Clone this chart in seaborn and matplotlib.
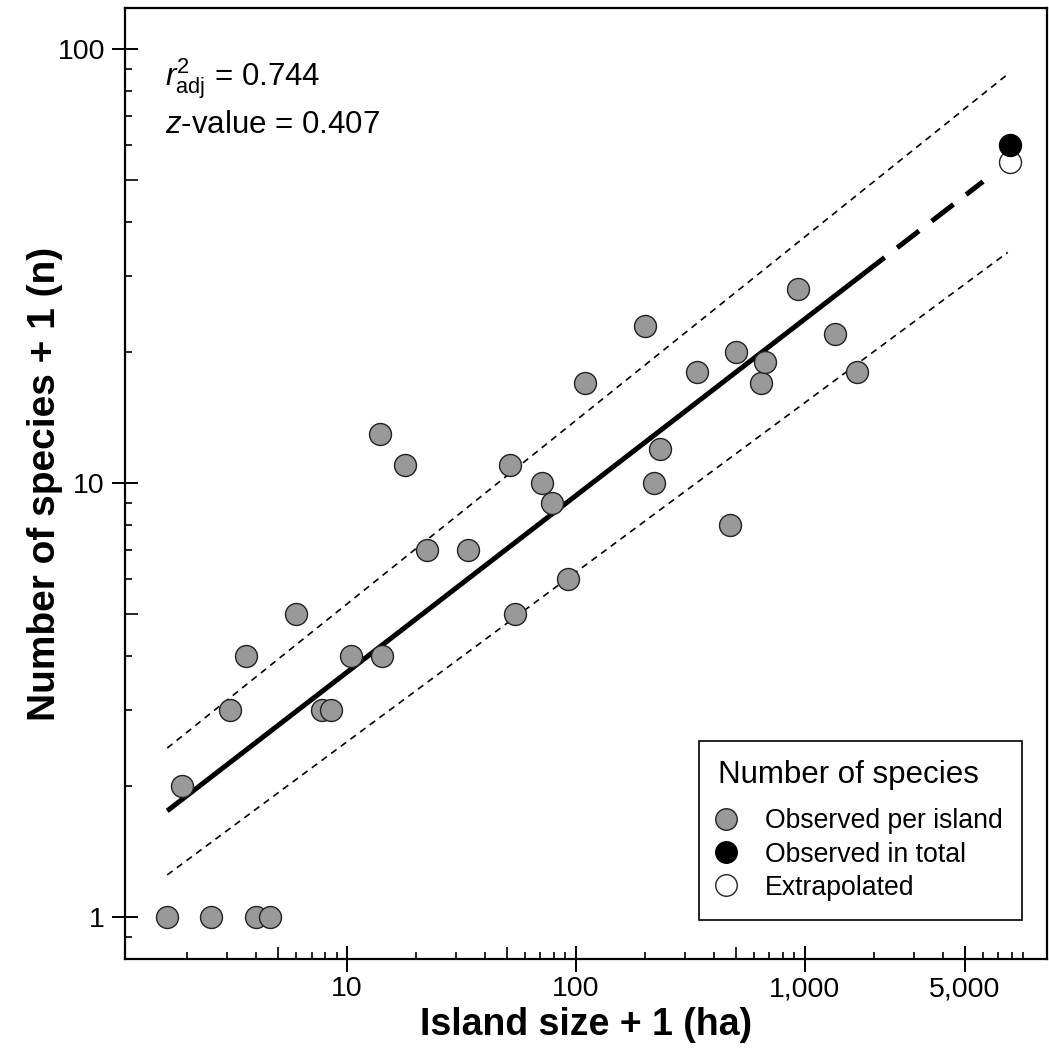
import numpy as np
import seaborn as sns
import matplotlib.pyplot as plt
from matplotlib.ticker import FixedLocator, LogLocator, NullFormatter, NullLocator, FuncFormatter
from matplotlib.lines import Line2D

# island size + 1 (ha) and number of species + 1
area = [1.64, 2.55, 4.01, 4.61, 1.90, 3.08, 3.62, 5.98, 7.78, 8.51,
        10.4, 14.2, 13.9, 17.9, 22.3, 33.7, 51.5, 54.2, 71.1, 78.5,
        92.3, 109, 200, 219, 233, 337, 470, 500, 643, 668,
        931, 1352, 1687]
species = [1, 1, 1, 1, 2, 3, 4, 5, 3, 3,
           4, 4, 13, 11, 7, 7, 11, 5, 10, 9,
           6, 17, 23, 10, 12, 18, 8, 20, 17, 19,
           28, 22, 18]

total_area = [7850]
total_species = [60]
extrap_species = [55]

# power model log(S) = c + z log(A)
fit_c = 0.157
fit_z = 0.407
fit_x_solid = [1.64, 1790]
fit_x_dashed = [1790, 6000]

# prediction band end points
band_x = [1.64, 7690]
band_upper = [2.45, 87.5]
band_lower = [1.25, 34.0]

x_ticks = [10, 100, 1000, 5000]
y_ticks = [1, 10, 100]

sns.set_style('ticks')
plt.rcParams['font.family'] = ['Liberation Sans', 'DejaVu Sans']
plt.rcParams['mathtext.fontset'] = 'custom'
plt.rcParams['mathtext.rm'] = 'Liberation Sans'
plt.rcParams['mathtext.it'] = 'Liberation Sans:italic'
for key in ('text.color', 'axes.labelcolor', 'xtick.color', 'ytick.color'):
    plt.rcParams[key] = 'black'

fig = plt.figure(figsize=(10.49, 10.57), dpi=100)
ax = fig.add_axes([0.1192, 0.0927, 0.8788, 0.8997])
ax.set_xscale('log')
ax.set_yscale('log')


def fit(x):
    x = np.asarray(x, dtype=float)
    return 10 ** (fit_c + fit_z * np.log10(x))


# prediction bands
sns.lineplot(x=band_x, y=band_upper, color='black', lw=1.2,
             linestyle=(0, (4, 3.2)), ax=ax)
sns.lineplot(x=band_x, y=band_lower, color='black', lw=1.2,
             linestyle=(0, (4, 3.2)), ax=ax)

# fitted line + extrapolation
sns.lineplot(x=fit_x_solid, y=fit(fit_x_solid), color='black', lw=3.6,
             solid_capstyle='butt', ax=ax)
sns.lineplot(x=fit_x_dashed, y=fit(fit_x_dashed), color='black', lw=3.6,
             linestyle=(0, (5.5, 3.2)), ax=ax)

# points
sns.scatterplot(x=area, y=species, s=250, color='#999999',
                edgecolor='#222222', linewidth=1, zorder=5, ax=ax)
sns.scatterplot(x=total_area, y=extrap_species, s=250, color='white',
                edgecolor='#222222', linewidth=1, zorder=5, ax=ax)
sns.scatterplot(x=total_area, y=total_species, s=250, color='black',
                edgecolor='black', linewidth=1, zorder=6, ax=ax)

ax.set_xlim(1.073, 11400)
ax.set_ylim(0.80, 124.3)

for axis, ticks in ((ax.xaxis, x_ticks), (ax.yaxis, y_ticks)):
    axis.set_major_locator(FixedLocator(ticks))
    axis.set_major_formatter(FuncFormatter(lambda v, p: f'{v:,.0f}'))
    axis.set_minor_locator(LogLocator(base=10, subs=[2, 3, 4, 6, 7, 8, 9], numticks=30))
    axis.set_minor_formatter(NullFormatter())

ax.tick_params(which='major', direction='inout', length=19, width=1.4,
               labelsize=20.5, colors='black')
ax.tick_params(axis='y', which='major', pad=5)
ax.tick_params(axis='x', which='major', pad=3)
ax.tick_params(which='minor', direction='in', length=5, width=1.2, colors='black')

# medium ticks at the 5s
secx = ax.secondary_xaxis('bottom')
secx.set_xticks([5, 50, 500])
secx.xaxis.set_minor_locator(NullLocator())
secx.tick_params(direction='in', length=9, width=1.2, labelbottom=False, colors='black')
secx.spines['bottom'].set_visible(False)
secy = ax.secondary_yaxis('left')
secy.set_yticks([5, 50])
secy.yaxis.set_minor_locator(NullLocator())
secy.tick_params(direction='in', length=9, width=1.2, labelleft=False, colors='black')
secy.spines['left'].set_visible(False)

for sp in ax.spines.values():
    sp.set_visible(True)
    sp.set_color('black')
    sp.set_linewidth(1.6)

ax.set_xlabel('Island size + 1 (ha)', fontsize=27, fontweight='bold', labelpad=3)
ax.set_ylabel('Number of species + 1 (n)', fontsize=28, fontweight='bold', labelpad=-4)

ax.text(0.043, 0.919, r'$r^2_{\mathrm{adj}}$ = 0.744', transform=ax.transAxes,
        fontsize=22.5, va='baseline')
ax.text(0.043, 0.8686, r'$z$-value = 0.407', transform=ax.transAxes,
        fontsize=22.5, va='baseline')

handles = [
    Line2D([], [], ls='none', marker='o', ms=15.5, mfc='#999999', mec='#222222', mew=1),
    Line2D([], [], ls='none', marker='o', ms=15.5, mfc='black', mec='black', mew=1),
    Line2D([], [], ls='none', marker='o', ms=15.5, mfc='white', mec='#222222', mew=1),
]
leg = ax.legend(handles, ['Observed per island', 'Observed in total', 'Extrapolated'],
                title='Number of species', loc='lower right',
                bbox_to_anchor=(0.973, 0.041), borderaxespad=0,
                fontsize=19.2, title_fontsize=22.5,
                frameon=True, fancybox=False, edgecolor='black', framealpha=1,
                alignment='left', handletextpad=1.2, labelspacing=0.27,
                borderpad=0.72, handlelength=0.55)
leg.get_frame().set_linewidth(1.2)
# extra gap between title and entries
leg._legend_box.sep = 13

fig.savefig('out.png', dpi=100)
